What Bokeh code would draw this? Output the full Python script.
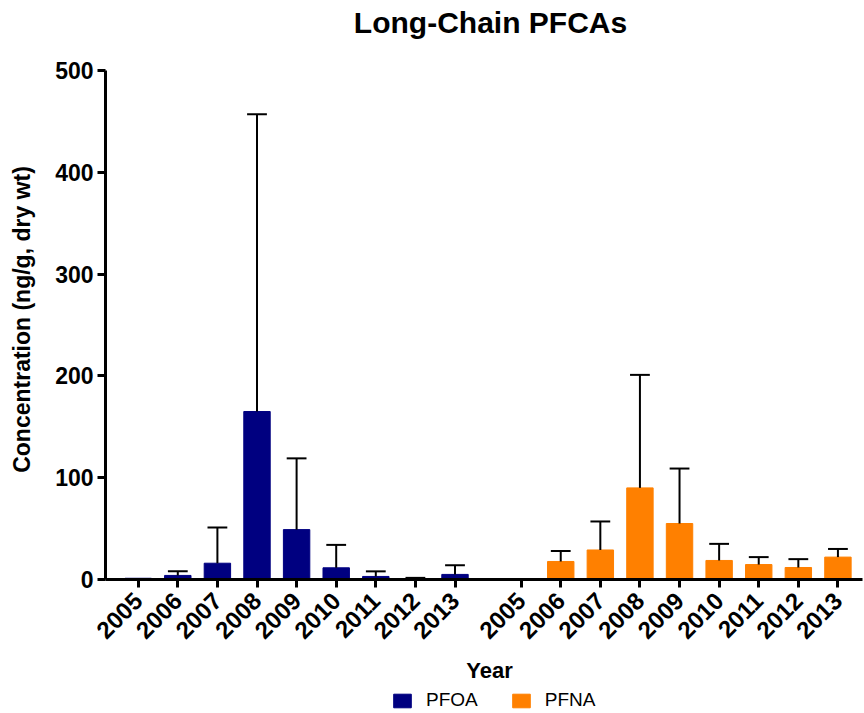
from bokeh.plotting import figure
from bokeh.models import (Range1d, FixedTicker, CustomJSTickFormatter, Legend,
                          LegendItem, ColumnDataSource)
from bokeh.core.properties import value
from bokeh.embed import file_html
from bokeh.resources import INLINE
import math

# Mean concentrations and upper standard deviations per sampling year
years = ["2005", "2006", "2007", "2008", "2009", "2010", "2011", "2012", "2013"]
pfoa_mean = [1.2, 4, 16, 165, 49, 11.5, 3, 0.8, 5]
pfoa_sd = [0, 4, 35, 292, 70, 22.5, 5, 0.8, 9]
pfna_mean = [0.8, 17.7, 29, 90, 55, 18.7, 14.7, 11.8, 22]
pfna_sd = [0, 10.3, 28, 111, 54, 16.3, 7.3, 8.2, 8]
y_ticks = [0, 100, 200, 300, 400, 500]

FONT = "Liberation Sans"
W, H = 864, 713
GROUP_GAP = 9.67      # offset (in bar slots) of the second compound block
BAR_W = 0.667
CAP_W = 0.5

# canvas geometry: the frame fills the whole canvas, axes are pinned inside it
SLOT_PX = 39.6        # pixels per bar slot
FIRST_BAR_PX = 137.7  # pixel column of the first bar
AXIS_LEFT_PX = 105
AXIS_RIGHT_PX = 862
UNIT_PX = 509 / 500   # pixels per ng/g
ZERO_PX = 579         # pixel row of the zero line


def sx(px):
    return (px - FIRST_BAR_PX) / SLOT_PX


def sy(py):
    return (ZERO_PX - py) / UNIT_PX


pfoa_x = [float(i) for i in range(len(years))]
pfna_x = [GROUP_GAP + i for i in range(len(years))]

p = figure(width=W, height=H, output_backend="svg", toolbar_location=None,
           x_range=Range1d(sx(0), sx(W)), y_range=Range1d(sy(H), sy(0)),
           min_border=0)
p.outline_line_color = None
p.xgrid.visible = False
p.ygrid.visible = False


def draw_series(xs, means, sds, color):
    src = ColumnDataSource(dict(x=xs, top=means))
    r = p.vbar(x="x", top="top", bottom=0, width=BAR_W, source=src,
               fill_color=color, line_color=color, line_width=1)
    ex = [x for x, s in zip(xs, sds) if s > 0]
    lo = [m for m, s in zip(means, sds) if s > 0]
    hi = [m + s for m, s in zip(means, sds) if s > 0]
    p.segment(x0=ex, y0=lo, x1=ex, y1=hi, line_color="black", line_width=2)
    p.segment(x0=[x - CAP_W / 2 for x in ex], y0=hi,
              x1=[x + CAP_W / 2 for x in ex], y1=hi,
              line_color="black", line_width=2)
    return r


r_pfoa = draw_series(pfoa_x, pfoa_mean, pfoa_sd, "#000080")
r_pfna = draw_series(pfna_x, pfna_mean, pfna_sd, "#FF8000")

tick_pos = pfoa_x + pfna_x
tick_lab = years + years
xax = p.xaxis[0]
yax = p.yaxis[0]
xax.ticker = FixedTicker(ticks=tick_pos, minor_ticks=[])
xax.formatter = CustomJSTickFormatter(
    args=dict(pos=tick_pos, lab=tick_lab),
    code="const i = pos.indexOf(tick); return i >= 0 ? lab[i] : '';")
xax.major_label_orientation = math.pi / 4
xax.fixed_location = 0
xax.bounds = (sx(AXIS_LEFT_PX), sx(AXIS_RIGHT_PX))

yax.ticker = FixedTicker(ticks=y_ticks, minor_ticks=[])
yax.fixed_location = sx(AXIS_LEFT_PX)
yax.bounds = (y_ticks[0], y_ticks[-1])

for ax in (xax, yax):
    ax.axis_line_width = 3
    ax.axis_line_color = "black"
    ax.major_tick_line_width = 3
    ax.major_tick_line_color = "black"
    ax.major_tick_in = 0
    ax.major_tick_out = 8
    ax.minor_tick_line_color = None
    ax.major_label_text_font = FONT
    ax.major_label_text_font_size = "23px"
    ax.major_label_text_font_style = "bold"
    ax.major_label_text_color = "black"
    ax.major_label_standoff = 4

xax.major_label_text_font_size = "24px"
xax.major_label_standoff = 9

# titles drawn as text in the frame
p.text(x=[sx(490)], y=[sy(22)], text=["Long-Chain PFCAs"],
       text_font=value(FONT), text_font_size="30px", text_font_style="bold",
       text_color="black", text_align="center", text_baseline="middle")
p.text(x=[sx(21)], y=[sy(319)], text=["Concentration (ng/g, dry wt)"],
       angle=math.pi / 2, text_font=value(FONT), text_font_size="23px",
       text_font_style="bold", text_color="black", text_align="center",
       text_baseline="middle")
p.text(x=[sx(489)], y=[sy(670)], text=["Year"],
       text_font=value(FONT), text_font_size="22px", text_font_style="bold",
       text_color="black", text_align="center", text_baseline="middle")

legend = Legend(items=[LegendItem(label="PFOA", renderers=[r_pfoa]),
                       LegendItem(label="PFNA", renderers=[r_pfna])],
                orientation="horizontal", location=(391, 2),
                glyph_width=22, glyph_height=17, label_standoff=13, spacing=32,
                label_text_font=FONT, label_text_font_size="19px",
                label_text_color="black",
                border_line_color=None, background_fill_alpha=0,
                padding=0, margin=0)
p.add_layout(legend, "center")

open("out.html", "w").write(file_html(p, INLINE))
